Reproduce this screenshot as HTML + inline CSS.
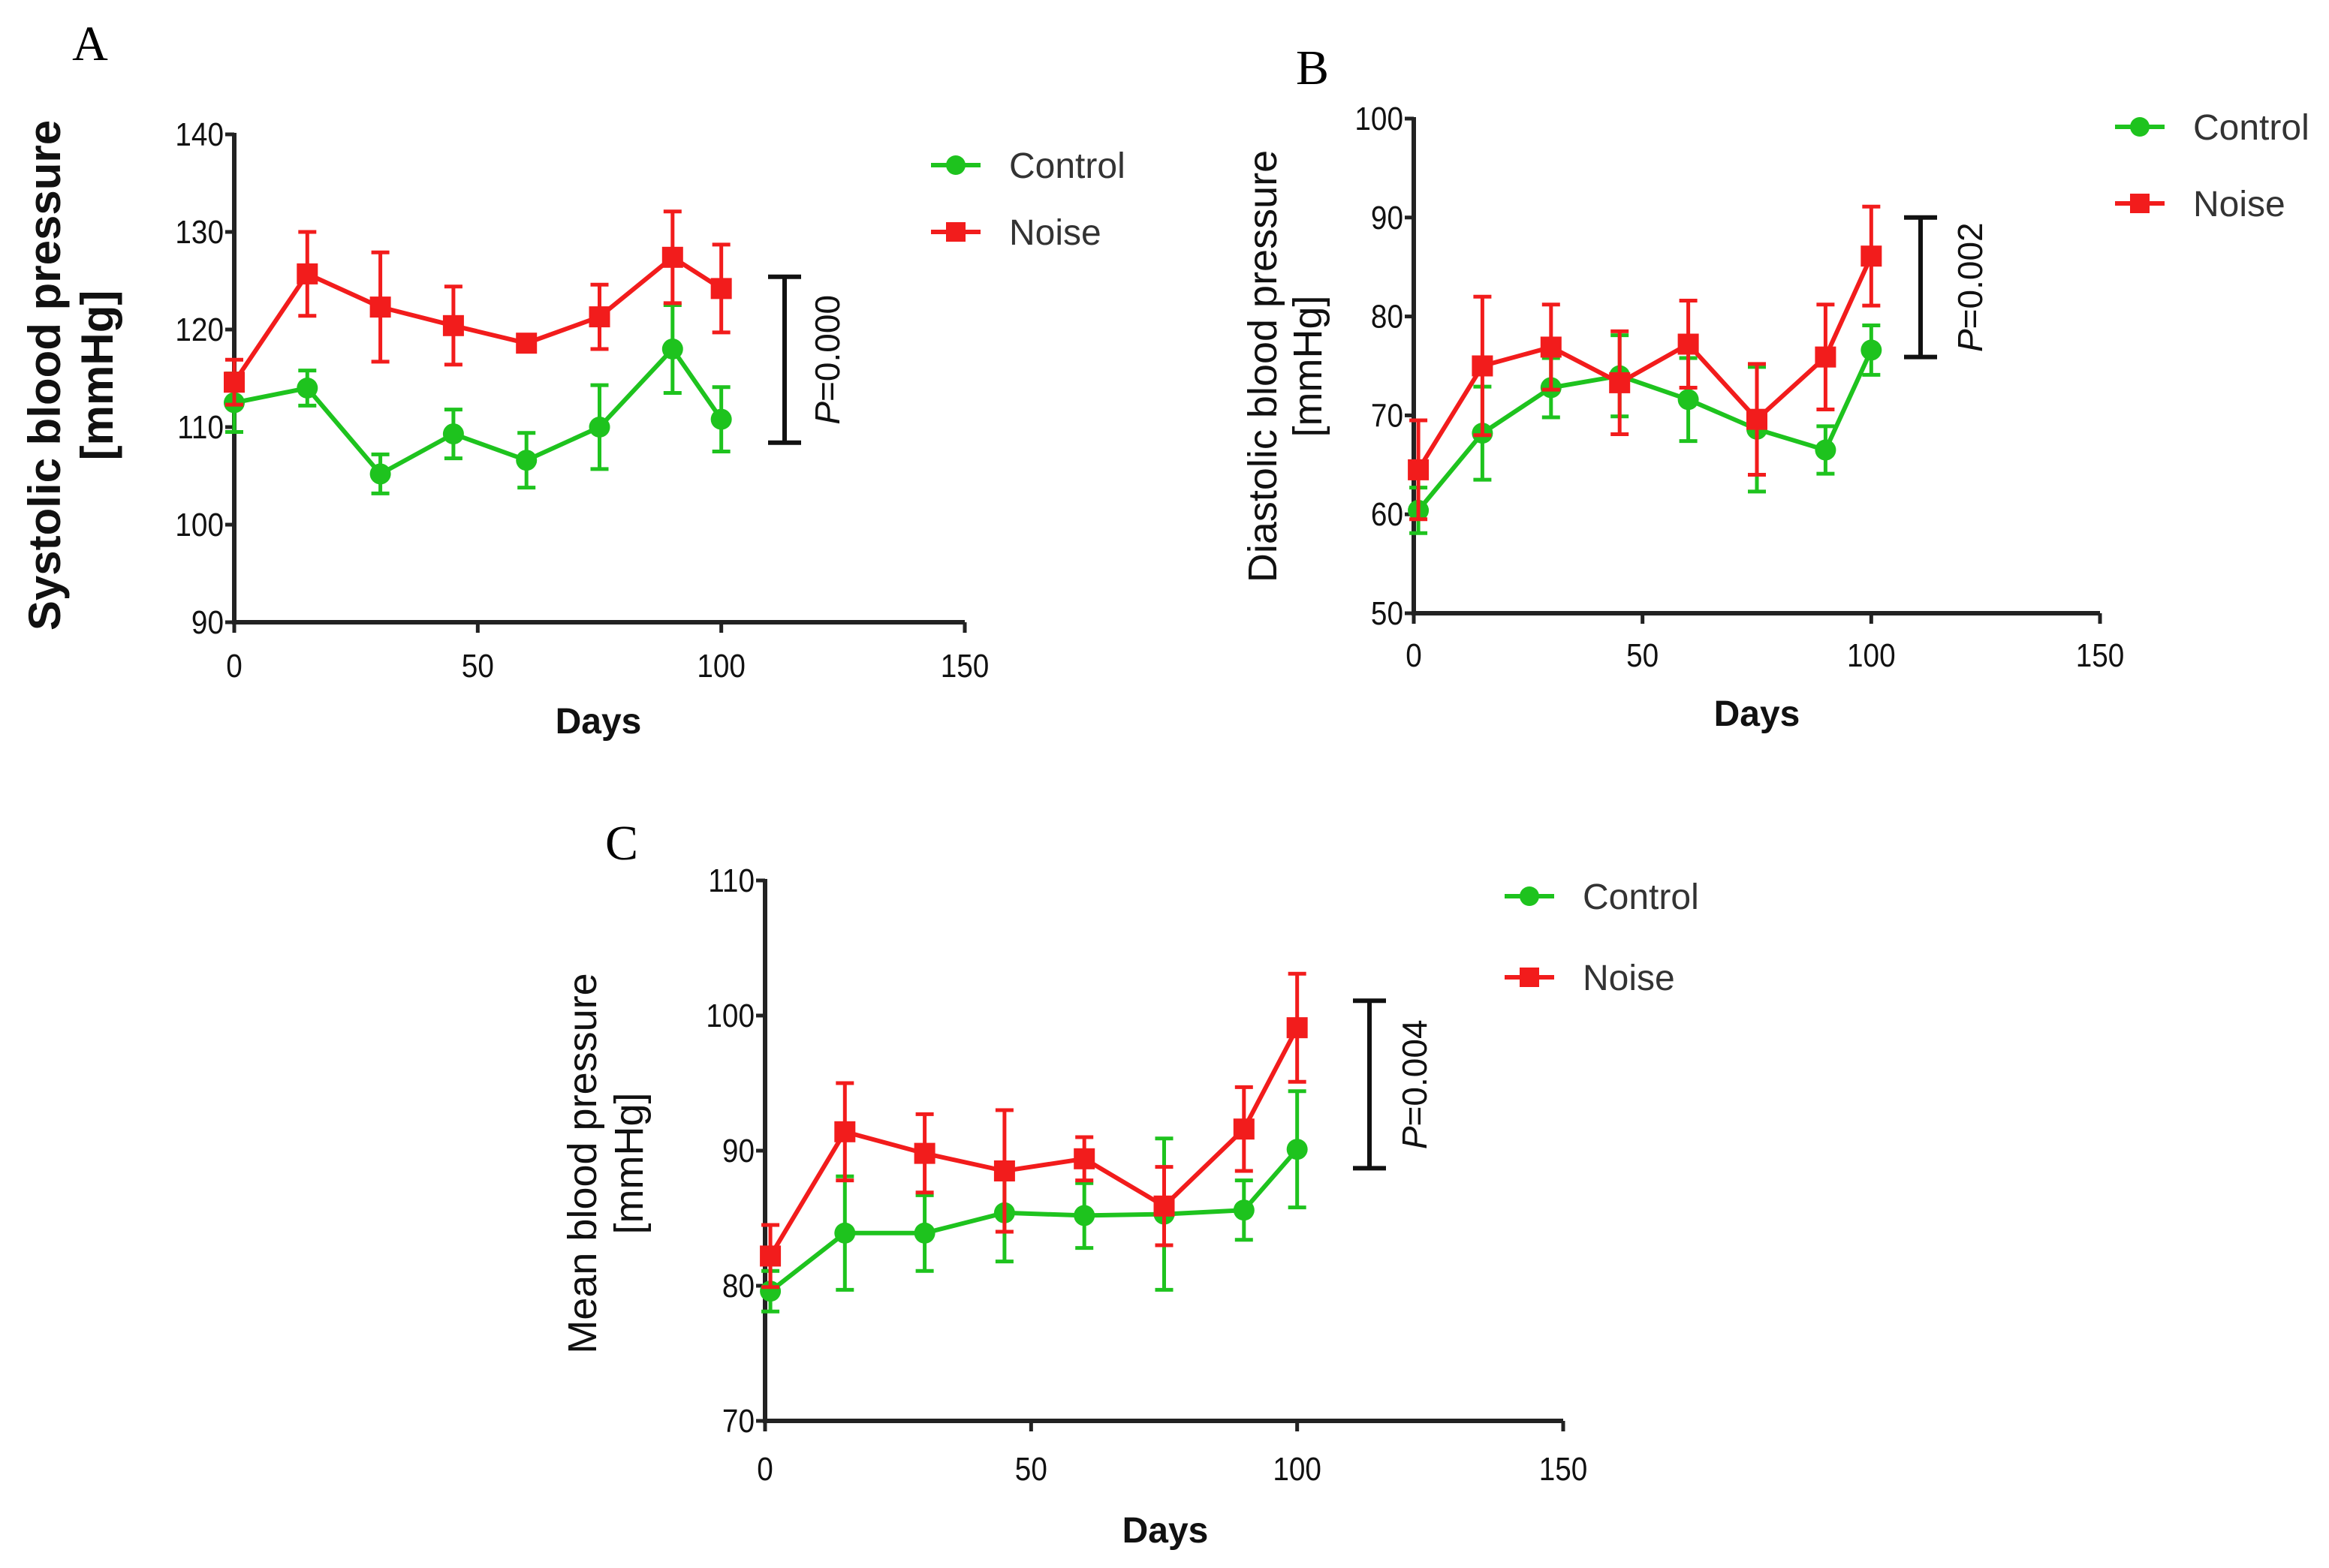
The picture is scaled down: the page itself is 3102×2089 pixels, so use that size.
<!DOCTYPE html>
<html><head><meta charset="utf-8"><style>
html,body{margin:0;padding:0;background:#fff;}
svg{display:block;font-family:"Liberation Sans",sans-serif;}
</style></head><body>
<svg id="fig" width="3102" height="2089" viewBox="0 0 3102 2089" xmlns="http://www.w3.org/2000/svg"></svg>
<script>
const daysA = [0, 15, 30, 45, 60, 75, 90, 100];
const daysB = [1, 15, 30, 45, 60, 75, 90, 100];
const daysC = [1, 15, 30, 45, 60, 75, 90, 100];
const sysControl = [112.5, 114, 105.2, 109.3, 106.6, 110, 118, 110.8];
const sysControlErr = [3, 1.8, 2, 2.5, 2.8, 4.3, 4.5, 3.3];
const sysNoise = [114.6, 125.7, 122.3, 120.4, 118.6, 121.3, 127.4, 124.2];
const sysNoiseErr = [2.3, 4.3, 5.6, 4, 0.7, 3.3, 4.7, 4.5];
const diaControl = [60.4, 68.2, 72.8, 74, 71.6, 68.6, 66.5, 76.6];
const diaControlErr = [2.3, 4.7, 3, 4.1, 4.2, 6.3, 2.4, 2.5];
const diaNoise = [64.5, 75, 76.9, 73.3, 77.2, 69.6, 75.9, 86.1];
const diaNoiseErr = [5, 7, 4.3, 5.2, 4.4, 5.6, 5.3, 5];
const meanControl = [79.6, 83.9, 83.9, 85.4, 85.2, 85.3, 85.6, 90.1];
const meanControlErr = [1.5, 4.2, 2.8, 3.6, 2.4, 5.6, 2.2, 4.3];
const meanNoise = [82.2, 91.4, 89.8, 88.5, 89.4, 85.9, 91.6, 99.1];
const meanNoiseErr = [2.3, 3.6, 2.9, 4.5, 1.6, 2.9, 3.1, 4];
const xTicks = [0, 50, 100, 150];
const yTicksA = [90, 100, 110, 120, 130, 140];
const yTicksB = [50, 60, 70, 80, 90, 100];
const yTicksC = [70, 80, 90, 100, 110];
const pLabels = ["0.000", "0.002", "0.004"];
const bracketA = [108.4, 125.4];
const bracketB = [75.9, 90];
const bracketC = [88.7, 101.1];

const NS = "http://www.w3.org/2000/svg";
const svg = document.getElementById('fig');
function mk(tag, attrs, parent, txt) {
  const e = document.createElementNS(NS, tag);
  for (const k in attrs) e.setAttribute(k, attrs[k]);
  if (txt !== undefined) e.textContent = txt;
  (parent || svg).appendChild(e);
  return e;
}
const GREEN = '#1ec31e', RED = '#f21c1c';

function panel(cfg) {
  const g = mk('g', {});
  
  
  const X = d => cfg.x0 + (d - 0) / 150 * (cfg.x1 - cfg.x0);
  const Y = v => cfg.yb + (v - cfg.ymin) / (cfg.ymax - cfg.ymin) * (cfg.yt - cfg.yb);
  const lt = mk('text', {x: cfg.lx, y: cfg.ly, 'font-size': 66, style: 'font-family:"Liberation Serif",serif', 'text-anchor': 'middle'}, g, cfg.letter);
  
  
  const ax = mk('path', {d: `M${cfg.x0},${Y(cfg.ymax)-2}V${cfg.yb}H${cfg.x1}`, stroke: '#222', 'stroke-width': 6, fill: 'none'}, g);
  
  
  for (const t of cfg.yTicks) {
    const y = Y(t);
    mk('line', {x1: cfg.x0 - 12, x2: cfg.x0, y1: y, y2: y, stroke: '#222', 'stroke-width': 5}, g);
    const tx = mk('text', {x: cfg.x0 - 14, y: y + 15, 'font-size': 44, 'text-anchor': 'end', fill: '#111', transform: `translate(${cfg.x0 - 14},0) scale(0.88,1) translate(${-(cfg.x0 - 14)},0)`}, g, t);
    
    
  }
  for (const t of xTicks) {
    const x = X(t);
    mk('line', {x1: x, x2: x, y1: cfg.yb, y2: cfg.yb + 14, stroke: '#222', 'stroke-width': 5}, g);
    const tx = mk('text', {x: x, y: cfg.xty, 'font-size': 44, 'text-anchor': 'middle', fill: '#111', transform: `translate(${x},0) scale(0.88,1) translate(${-x},0)`}, g, t);
    
    
  }
  const dl = mk('text', {x: cfg.dx, y: cfg.dy, 'font-size': 48, 'font-weight': 'bold', 'text-anchor': 'middle', fill: '#111'}, g, 'Days');
  
  
  const yt = mk('text', {transform: `translate(${cfg.tx1},${cfg.tcy}) rotate(-90)`, 'font-size': cfg.tfs, 'font-weight': cfg.tfw, 'text-anchor': 'middle', fill: '#111'}, g, cfg.title);
  
  
  const yu = mk('text', {transform: `translate(${cfg.tx2},${cfg.tcy}) rotate(-90)`, 'font-size': cfg.tfs, 'font-weight': cfg.tfw, 'text-anchor': 'middle', fill: '#111'}, g, '[mmHg]');
  
  
  function series(vals, errs, color, shape, name) {
    const sg = mk('g', {}, g);
    
    
    for (let i = 0; i < vals.length; i++) {
      const x = X(cfg.days[i]);
      const e = mk('path', {d: `M${x},${Y(vals[i]-errs[i])}V${Y(vals[i]+errs[i])}M${x-12},${Y(vals[i]-errs[i])}h24M${x-12},${Y(vals[i]+errs[i])}h24`, stroke: color, 'stroke-width': 5, fill: 'none'}, sg);
      
      
    }
    const ln = mk('polyline', {points: vals.map((v, i) => X(cfg.days[i]) + ',' + Y(v)).join(' '), stroke: color, 'stroke-width': 6, fill: 'none'}, sg);
    
    
    for (let i = 0; i < vals.length; i++) {
      const x = X(cfg.days[i]), y = Y(vals[i]);
      const m = shape === 'c' ? mk('circle', {cx: x, cy: y, r: 14, fill: color}, sg)
        : mk('rect', {x: x - 14, y: y - 14, width: 28, height: 28, fill: color}, sg);
      
      
    }
  }
  series(cfg.ctrl, cfg.ctrlE, GREEN, 'c', 'control');
  series(cfg.noise, cfg.noiseE, RED, 's', 'noise');
  const bt = Y(cfg.br[1]), bb = Y(cfg.br[0]);
  const br = mk('path', {d: `M${cfg.bx},${bt}V${bb}M${cfg.bx-22},${bt}h44M${cfg.bx-22},${bb}h44`, stroke: '#111', 'stroke-width': 6, fill: 'none'}, g);
  
  
  const pt = mk('text', {transform: `translate(${cfg.px},${(bt+bb)/2}) rotate(-90)`, 'font-size': 46, 'text-anchor': 'middle', fill: '#111'}, g);
  
  
  mk('tspan', {'font-style': 'italic'}, pt, 'P');
  mk('tspan', {}, pt, '=' + cfg.p);
  const lg = mk('g', {}, g);
  
  
  [[GREEN, 'c', 'Control', cfg.leg1], [RED, 's', 'Noise', cfg.leg2]].forEach(([c, s, lab, y]) => {
    const en = mk('g', {}, lg);
    
    
    mk('line', {x1: cfg.legx, x2: cfg.legx + 66, y1: y, y2: y, stroke: c, 'stroke-width': 6}, en);
    const cx = cfg.legx + 33;
    if (s === 'c') mk('circle', {cx: cx, cy: y, r: 13, fill: c}, en);
    else mk('rect', {x: cx - 13, y: y - 13, width: 26, height: 26, fill: c}, en);
    mk('text', {x: cfg.legx + 104, y: y + 17, 'font-size': 48, fill: '#333'}, en, lab);
  });
}

panel({id: 'systolic', letter: 'A', lx: 120, ly: 80, x0: 312, x1: 1285, yt: 179, yb: 829, ymin: 90, ymax: 140,
  yTicks: yTicksA, xty: 902, dx: 797, dy: 977, title: 'Systolic blood pressure', tfs: 60, tfw: 'bold', tx1: 80, tx2: 150, tcy: 500,
  days: daysA, ctrl: sysControl, ctrlE: sysControlErr, noise: sysNoise, noiseE: sysNoiseErr,
  br: bracketA, bx: 1045, px: 1118, p: pLabels[0], legx: 1240, leg1: 220, leg2: 309});
panel({id: 'diastolic', letter: 'B', lx: 1748, ly: 112, x0: 1883, x1: 2797, yt: 158, yb: 817, ymin: 50, ymax: 100,
  yTicks: yTicksB, xty: 888, dx: 2340, dy: 967, title: 'Diastolic blood pressure', tfs: 54, tfw: 'normal', tx1: 1700, tx2: 1760, tcy: 488,
  days: daysB, ctrl: diaControl, ctrlE: diaControlErr, noise: diaNoise, noiseE: diaNoiseErr,
  br: bracketB, bx: 2558, px: 2640, p: pLabels[1], legx: 2817, leg1: 169, leg2: 271});
panel({id: 'mean', letter: 'C', lx: 828, ly: 1145, x0: 1019, x1: 2082, yt: 1173, yb: 1893, ymin: 70, ymax: 110,
  yTicks: yTicksC, xty: 1972, dx: 1552, dy: 2055, title: 'Mean blood pressure', tfs: 54, tfw: 'normal', tx1: 794, tx2: 856, tcy: 1550,
  days: daysC, ctrl: meanControl, ctrlE: meanControlErr, noise: meanNoise, noiseE: meanNoiseErr,
  br: bracketC, bx: 1824, px: 1900, p: pLabels[2], legx: 2004, leg1: 1194, leg2: 1302});
</script>
</body></html>
